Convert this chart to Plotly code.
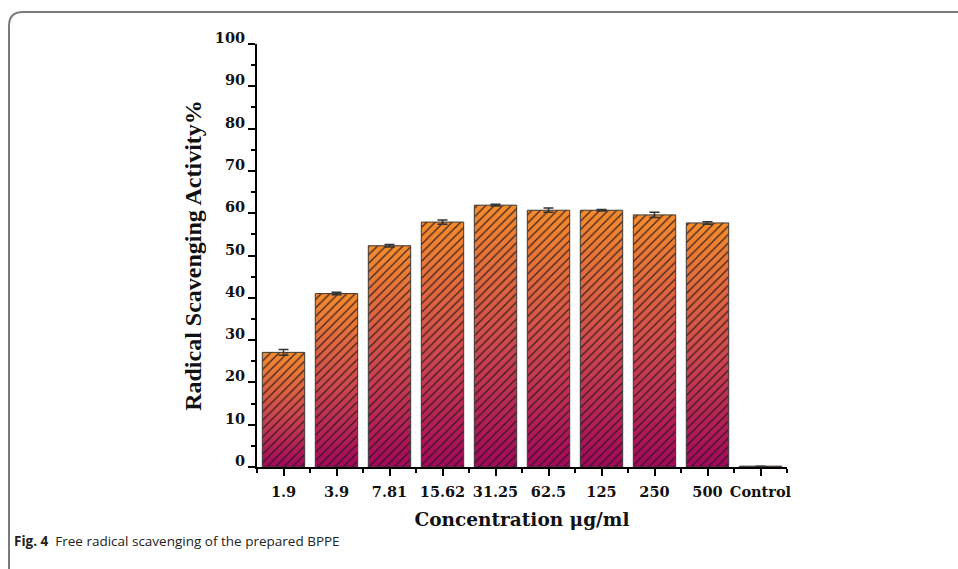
import plotly.graph_objects as go

# ---- data ----
categories = ["1.9", "3.9", "7.81", "15.62", "31.25", "62.5", "125", "250", "500", "Control"]
activity = [27.1, 41.0, 52.3, 57.9, 61.9, 60.7, 60.7, 59.6, 57.7, 0.2]
error = [0.7, 0.3, 0.3, 0.5, 0.2, 0.5, 0.2, 0.6, 0.3, 0.0]
y_ticks = [0, 10, 20, 30, 40, 50, 60, 70, 80, 90, 100]

# ---- layout constants (pixels) ----
W, H = 958, 569
L, R, T, B = 257, 958 - 787, 44, 569 - 467
PW, PH = W - L - R, H - T - B
BAR_W = 0.8

def px_x(px):
    return (px - L) / PW

def px_y(py):
    return (H - B - py) / PH

xs = list(range(len(categories)))

fig = go.Figure()

# gradient fill for each bar (polygon derived from the data value)
for i, v in zip(xs, activity):
    fig.add_trace(go.Scatter(
        x=[i - BAR_W / 2, i + BAR_W / 2, i + BAR_W / 2, i - BAR_W / 2, i - BAR_W / 2],
        y=[0, 0, v, v, 0],
        mode="lines", line=dict(width=0), fill="toself",
        fillgradient=dict(type="vertical",
                          colorscale=[[0, "#A2075C"], [0.45, "#CC4650"], [1, "#F48C2E"]]),
        hoverinfo="skip", showlegend=False,
        xaxis="x", yaxis="y",
    ))

# hatch pattern + outline + error bars on an overlaying subplot
fig.add_trace(go.Bar(
    x=xs, y=activity, width=BAR_W,
    marker=dict(color="rgba(0,0,0,0)",
                line=dict(color="#3a3a3a", width=1),
                pattern=dict(shape="/", fillmode="replace", fgcolor="rgba(40,20,20,0.85)",
                             bgcolor="rgba(0,0,0,0)", size=6, solidity=0.22)),
    error_y=dict(type="data", array=error, visible=True, color="#333333",
                 thickness=1.5, width=5),
    showlegend=False, xaxis="x2", yaxis="y2",
))

tick_font = dict(family="DejaVu Serif", size=14.5, color="#111111")

fig.update_layout(
    width=W, height=H,
    margin=dict(l=L, r=R, t=T, b=B, pad=0),
    paper_bgcolor="white", plot_bgcolor="white",
    xaxis=dict(
        range=[-0.5, len(categories) - 0.5],
        tickmode="array", tickvals=xs, ticktext=[f"<b>{c}</b>" for c in categories],
        ticks="outside", ticklen=7, tickwidth=2, tickcolor="black",
        minor=dict(tickmode="array", tickvals=[i + 0.5 for i in range(-1, len(categories))],
                   ticks="outside", ticklen=4, tickwidth=2, tickcolor="black"),
        showline=True, linewidth=2, linecolor="black",
        showgrid=False, zeroline=False,
        tickfont=tick_font, ticklabelstandoff=4,
        title=dict(text="<b>Concentration μg/ml</b>",
                   font=dict(family="DejaVu Serif", size=18.5, color="#111111"),
                   standoff=14),
    ),
    yaxis=dict(
        range=[0, 100],
        tickmode="array", tickvals=y_ticks, ticktext=[f"<b>{t}</b>" for t in y_ticks],
        ticks="outside", ticklen=7, tickwidth=2, tickcolor="black",
        minor=dict(dtick=5, tick0=0, ticks="outside", ticklen=4, tickwidth=2, tickcolor="black"),
        showline=True, linewidth=2, linecolor="black",
        showgrid=False, zeroline=False,
        tickfont=tick_font, ticklabelshift=-6,
        title=dict(text="<b>Radical Scavenging Activity%</b>",
                   font=dict(family="Liberation Serif", size=24, color="#111111"),
                   standoff=6),
    ),
    xaxis2=dict(range=[-0.5, len(categories) - 0.5], overlaying="x", visible=False),
    yaxis2=dict(range=[0, 100], overlaying="y", visible=False),
    bargap=0.2,
)

# caption
fig.add_annotation(
    xref="paper", yref="paper", x=px_x(12), y=px_y(541),
    xanchor="left", yanchor="middle", showarrow=False,
    text="<b>Fig. 4</b>  Free radical scavenging of the prepared BPPE",
    font=dict(family="Open Sans", size=13.5, color="#222222"),
)

# rounded frame (top-left corner of the page box)
x0, xr = px_x(9), px_x(975)
ytop, ybot = px_y(12), px_y(590)
rx, ry = 14 / PW, 14 / PH
fig.add_shape(
    type="path", xref="paper", yref="paper",
    path=(f"M {x0},{ybot} L {x0},{ytop - ry} Q {x0},{ytop} {x0 + rx},{ytop} L {xr},{ytop}"),
    line=dict(color="#7a7a7a", width=2),
)

fig.write_html(
    "out.html",
    config={"displayModeBar": False},
    post_script="document.body.style.margin='0px';document.body.style.overflow='hidden';",
)
